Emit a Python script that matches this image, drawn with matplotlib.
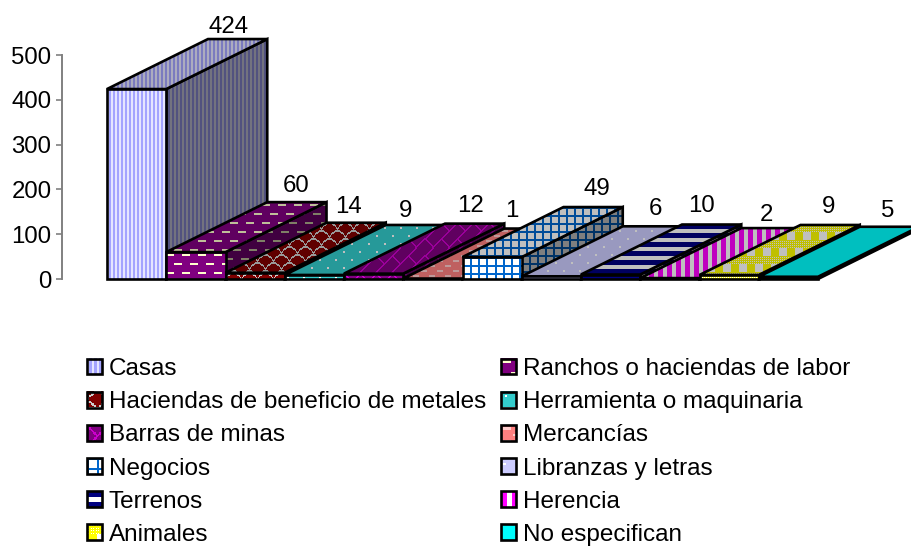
import numpy as np
import matplotlib
matplotlib.use('Agg')
import matplotlib.pyplot as plt
from matplotlib.colors import to_rgb
from matplotlib.image import BboxImage
from matplotlib.legend_handler import HandlerBase
from matplotlib.patches import Patch, Polygon, Rectangle
from matplotlib.transforms import Bbox, TransformedBbox

plt.rcParams['font.family'] = ['Liberation Sans', 'DejaVu Sans']

categories = ['Casas', 'Ranchos o haciendas de labor', 'Haciendas de beneficio de metales',
              'Herramienta o maquinaria', 'Barras de minas', 'Mercancías', 'Negocios',
              'Libranzas y letras', 'Terrenos', 'Herencia', 'Animales', 'No especifican']
values = [424, 60, 14, 9, 12, 1, 49, 6, 10, 2, 9, 5]
yticks = [0, 100, 200, 300, 400, 500]

# background / pattern colours of each bar
back_colors = ['#e6e6ff', '#800080', '#800000', '#33cccc', '#800080', '#ff8080',
               '#ffffff', '#ccccff', '#ffffff', '#ffffff', '#ffffff', '#00ffff']
fore_colors = ['#a4a4ff', '#ffffcc', '#cccccc', '#ffffff', '#cc00cc', '#ffcccc',
               '#0066cc', '#ffffff', '#000080', '#ff00ff', '#ffff00', '#00ffff']

# label nudges in pixels, the labels don't sit exactly over the bars
label_dx = [-9, -1, -8, -10, -4, -22, 4, 3, -10, -4, -2, -2]
label_dy = [12, 16, 16, 14, 18, 18, 18, 17, 19, 13, 18, 16]

DPI = 100
W, H = 911, 547
BAR_PX = 59.25
PX_PER_UNIT = 0.448
DEPTH_X = 101 / BAR_PX
DEPTH_Y = 50 / PX_PER_UNIT
SIDE_SHADE = 0.5
TOP_SHADE = 0.75
LW = 1.9
FONT = 17.3
LEGEND_FONT = 17.5


def dots(h, w, spots):
    m = np.zeros((h, w), dtype=bool)
    for r, c in spots:
        m[r:r + 2, c:c + 2] = True
    return m


def dashes():
    m = np.zeros((18, 16), dtype=bool)
    m[2:4, 0:8] = True
    m[11:13, 8:16] = True
    return m


def scales():
    m = np.zeros((16, 16), dtype=bool)
    for c in range(16):
        r = int(round(6 * ((c - 8) / 8) ** 2))
        m[r:r + 2, c] = True
        m[r + 8:r + 10, (c + 8) % 16] = True
    return m


def bricks():
    # diagonal brick courses, the short joints shift by half a brick each course
    r, c = np.mgrid[0:32, 0:32]
    course = (r + c) // 16
    return ((r + c) % 16 < 2) | ((r - c + 16 * course) % 32 < 2)


def grid():
    r, c = np.mgrid[0:8, 0:8]
    return (r < 2) | (c < 2)


def weave():
    # mostly yellow screen between rows of alternating solid squares
    r, c = np.mgrid[0:32, 0:16]
    m = (r % 2 == 0) | (c % 2 == 0)
    m[8:16] = c[8:16] < 8
    m[24:32] = c[24:32] >= 8
    return m


def ovals():
    m = np.zeros((10, 16), dtype=bool)
    m[2:4, 2:8] = True
    m[7:9, 10:16] = True
    return m


masks = [
    np.array([[0, 0, 1, 1]], dtype=bool),
    dashes(),
    scales(),
    dots(16, 16, [(3, 3), (11, 11)]),
    bricks(),
    ovals(),
    grid(),
    dots(16, 16, [(4, 2), (12, 10)]),
    np.array([[1], [1], [1], [1], [1], [0], [0], [0], [0]], dtype=bool),
    np.array([[1, 1, 1, 1, 1, 0, 0, 0, 0]], dtype=bool),
    weave(),
    np.zeros((1, 1), dtype=bool),
]


def make_tile(i):
    bg = np.array(to_rgb(back_colors[i]))
    fg = np.array(to_rgb(fore_colors[i]))
    return np.where(masks[i][..., None], fg, bg)


def fill_face(ax, verts, tile, shade, z):
    # the pattern is screen aligned, so it is tiled in pixels and cut by the face
    verts = np.array(verts, dtype=float)
    px = ax.transData.transform(verts)
    x0, y0 = np.floor(px.min(axis=0)).astype(int)
    x1, y1 = np.ceil(px.max(axis=0)).astype(int)
    w, h = max(x1 - x0, 1), max(y1 - y0, 1)
    ny = h // tile.shape[0] + 2
    nx = w // tile.shape[1] + 2
    img = np.tile(tile, (ny, nx, 1))[:h, :w] * shade
    inv = ax.transData.inverted()
    (ex0, ey0), (ex1, ey1) = inv.transform([(x0, y0), (x1, y1)])
    im = ax.imshow(img, extent=(ex0, ex1, ey0, ey1), origin='upper', aspect='auto',
                   interpolation='nearest', zorder=z)
    im.set_clip_box(ax.figure.bbox)
    im.set_clip_path(Polygon(verts, closed=True, transform=ax.transData))
    ax.add_patch(Polygon(verts, closed=True, fill=False, edgecolor='black', linewidth=LW,
                         joinstyle='miter', clip_on=False, zorder=z + 0.5))


class SwatchHandler(HandlerBase):
    # legend key filled with the bar's pattern
    def __init__(self, tile):
        super().__init__()
        self.tile = tile

    def create_artists(self, legend, orig_handle, xdescent, ydescent, width, height, fontsize, trans):
        ny = 13 // self.tile.shape[0] + 1
        nx = 13 // self.tile.shape[1] + 1
        box = Bbox.from_bounds(-xdescent, -ydescent, width, height)
        im = BboxImage(TransformedBbox(box, trans), interpolation='nearest')
        im.set_data(np.tile(self.tile, (ny, nx, 1))[:13, :13])
        rect = Rectangle((-xdescent, -ydescent), width, height, fill=False,
                         edgecolor='black', linewidth=LW, transform=trans)
        return [im, rect]


fig = plt.figure(figsize=(W / DPI, H / DPI), dpi=DPI)
ax = fig.add_axes([62 / W, (H - 279) / H, (W - 62) / W, 224 / H])
ax.set_autoscale_on(False)
ax.set_ylim(0, 500)
xmin = -0.5 - 45 / BAR_PX
ax.set_xlim(xmin, xmin + (W - 62) / BAR_PX)

for s in ['top', 'right', 'bottom']:
    ax.spines[s].set_visible(False)
ax.spines['left'].set_color('#808080')
ax.spines['left'].set_linewidth(1.4)
ax.set_xticks([])
ax.set_yticks(yticks)
ax.tick_params(axis='y', length=4.5, width=1.2, color='#808080', labelsize=FONT, pad=3)
ax.patch.set_visible(False)

z = 2
for i, v in enumerate(values):
    tile = make_tile(i)
    x0, x1 = i - 0.5, i + 0.5
    fill_face(ax, [(x1, 0), (x1 + DEPTH_X, DEPTH_Y), (x1 + DEPTH_X, v + DEPTH_Y), (x1, v)],
              tile, SIDE_SHADE, z)
    fill_face(ax, [(x0, v), (x1, v), (x1 + DEPTH_X, v + DEPTH_Y), (x0 + DEPTH_X, v + DEPTH_Y)],
              tile, TOP_SHADE, z + 1)
    fill_face(ax, [(x0, 0), (x1, 0), (x1, v), (x0, v)], tile, 1.0, z + 2)
    z += 3

for i, v in enumerate(values):
    ax.annotate(str(v), xy=(i + DEPTH_X, v + DEPTH_Y), xytext=(label_dx[i], label_dy[i]),
                textcoords='offset pixels', ha='center', va='center', fontsize=FONT,
                annotation_clip=False, zorder=100)

# legend reads across the rows, matplotlib fills it column by column
order = list(range(0, 12, 2)) + list(range(1, 12, 2))
handles = []
handler_map = {}
for i in order:
    h = Patch(label=categories[i])
    handles.append(h)
    handler_map[h] = SwatchHandler(make_tile(i))

fig.legend(handles=handles, handler_map=handler_map, ncol=2, loc='upper left',
           bbox_to_anchor=(87 / W, 1 - 358 / H), bbox_transform=fig.transFigure,
           frameon=False, fontsize=LEGEND_FONT, borderpad=0, borderaxespad=0,
           handlelength=0.62, handleheight=0.62, handletextpad=0.28,
           columnspacing=0.6, labelspacing=0.46)

fig.savefig('out.png', dpi=DPI)
